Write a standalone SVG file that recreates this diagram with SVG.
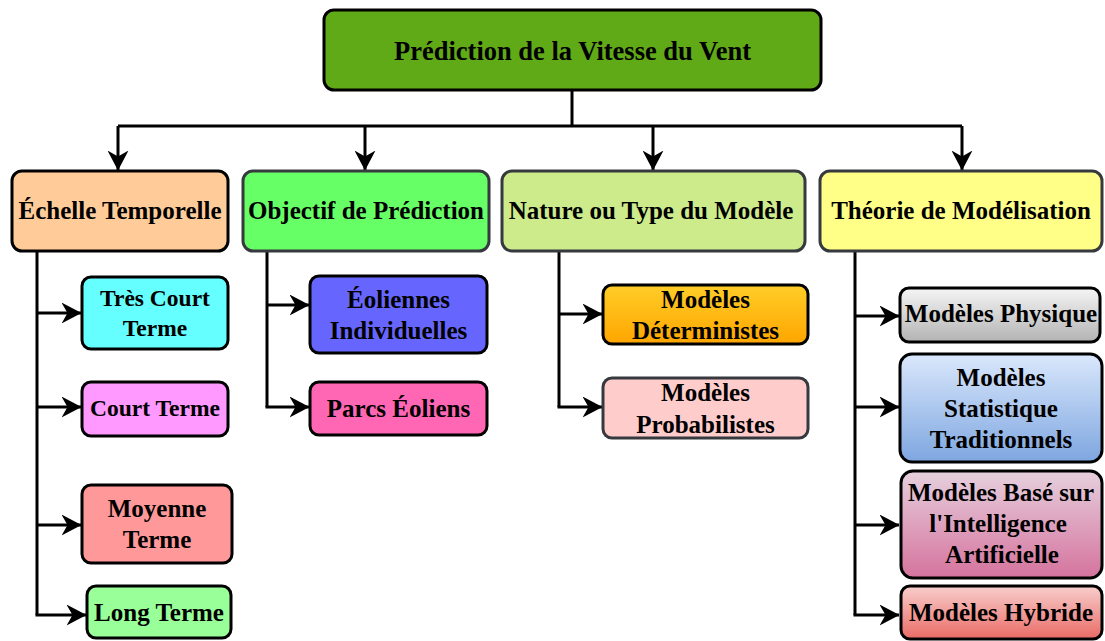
<svg xmlns="http://www.w3.org/2000/svg" width="1105" height="641" viewBox="0 0 1105 641">
<style>
  .box{stroke:#000;stroke-width:3}
  .gbox{stroke:#36393d;stroke-width:3}
  text{font-family:'Liberation Serif','Times New Roman',serif;font-weight:700;fill:#000;text-anchor:middle;font-size:25px}
  .t0{font-size:26.5px}
  .ts{font-size:23.5px}
  .c{fill:none;stroke:#000;stroke-width:3}
</style>
<defs>
  <marker id="ah" viewBox="0 0 20 21" refX="19.5" refY="10.5" markerWidth="20" markerHeight="21" markerUnits="userSpaceOnUse" orient="auto">
    <path d="M0,0 L20,10.5 L0,21 L6,10.5 Z" fill="#000"/>
  </marker>
  <linearGradient id="gOr" x1="0" y1="0" x2="0" y2="1"><stop offset="0" stop-color="#ffcd28"/><stop offset="1" stop-color="#ffa500"/></linearGradient>
  <linearGradient id="gGr" x1="0" y1="0" x2="0" y2="1"><stop offset="0" stop-color="#f5f5f5"/><stop offset="1" stop-color="#b3b3b3"/></linearGradient>
  <linearGradient id="gBl" x1="0" y1="0" x2="0" y2="1"><stop offset="0" stop-color="#dae8fc"/><stop offset="1" stop-color="#7ea6e0"/></linearGradient>
  <linearGradient id="gPk" x1="0" y1="0" x2="0" y2="1"><stop offset="0" stop-color="#e6d0de"/><stop offset="1" stop-color="#d5739d"/></linearGradient>
  <linearGradient id="gRd" x1="0" y1="0" x2="0" y2="1"><stop offset="0" stop-color="#f8cecc"/><stop offset="1" stop-color="#ea6b66"/></linearGradient>
</defs>

<g id="connectors">
  <path class="c" d="M572,90 V126"/>
  <path class="c" d="M118,126 H962"/>
  <path class="c" d="M118,126 V170" marker-end="url(#ah)"/>
  <path class="c" d="M365,126 V170" marker-end="url(#ah)"/>
  <path class="c" d="M653,126 V170" marker-end="url(#ah)"/>
  <path class="c" d="M962,126 V170" marker-end="url(#ah)"/>
  <path class="c" d="M37,251 V615"/>
  <path class="c" d="M37,313 H81" marker-end="url(#ah)"/>
  <path class="c" d="M37,407 H81" marker-end="url(#ah)"/>
  <path class="c" d="M37,525 H81" marker-end="url(#ah)"/>
  <path class="c" d="M35.5,615 H86" marker-end="url(#ah)"/>
  <path class="c" d="M267,251 V407"/>
  <path class="c" d="M267,305 H309" marker-end="url(#ah)"/>
  <path class="c" d="M265.5,407 H309" marker-end="url(#ah)"/>
  <path class="c" d="M559,251 V407"/>
  <path class="c" d="M559,314 H602" marker-end="url(#ah)"/>
  <path class="c" d="M557.5,407 H602" marker-end="url(#ah)"/>
  <path class="c" d="M855,251 V615"/>
  <path class="c" d="M855,316 H899" marker-end="url(#ah)"/>
  <path class="c" d="M855,407 H899" marker-end="url(#ah)"/>
  <path class="c" d="M855,525 H899" marker-end="url(#ah)"/>
  <path class="c" d="M853.5,615 H899" marker-end="url(#ah)"/>
</g>

<g id="root">
  <rect class="box" x="324" y="10" width="497" height="80" rx="10" fill="#60a917"/>
  <text class="t0" x="572.5" y="60">Prédiction de la Vitesse du Vent</text>
</g>

<g id="echelle">
  <rect class="box" x="12" y="171" width="216" height="80" rx="10" fill="#ffcc99"/>
  <text x="120" y="219">Échelle Temporelle</text>
</g>
<g id="objectif">
  <rect class="gbox" x="243" y="171" width="246" height="80" rx="10" fill="#66ff66"/>
  <text x="366" y="219">Objectif de Prédiction</text>
</g>
<g id="nature">
  <rect class="gbox" x="502" y="171" width="303" height="80" rx="10" fill="#cdeb8b"/>
  <text x="651" y="219">Nature ou Type du Modèle</text>
</g>
<g id="theorie">
  <rect class="gbox" x="820" y="171" width="282" height="80" rx="10" fill="#ffff88"/>
  <text x="961" y="219">Théorie de Modélisation</text>
</g>

<g id="tres-court">
  <rect class="box" x="82" y="277" width="146" height="72" rx="9" fill="#66ffff"/>
  <text class="ts" x="155" y="306">Très Court</text>
  <text class="ts" x="155" y="336">Terme</text>
</g>
<g id="court">
  <rect class="box" x="82" y="382" width="146" height="54" rx="9" fill="#ff99ff"/>
  <text class="ts" x="155" y="416">Court Terme</text>
</g>
<g id="moyenne">
  <rect class="box" x="82" y="485" width="150" height="78" rx="9" fill="#ff9999"/>
  <text x="157" y="517">Moyenne</text>
  <text x="157" y="548">Terme</text>
</g>
<g id="long">
  <rect class="box" x="87" y="586" width="144" height="52" rx="9" fill="#99ff99"/>
  <text x="159" y="621">Long Terme</text>
</g>

<g id="eoliennes">
  <rect class="box" x="310" y="276" width="177" height="77" rx="9" fill="#6666ff"/>
  <text x="398.5" y="308">Éoliennes</text>
  <text x="398.5" y="339">Individuelles</text>
</g>
<g id="parcs">
  <rect class="box" x="310" y="382" width="177" height="53" rx="9" fill="#ff66b3"/>
  <text x="398.5" y="417">Parcs Éoliens</text>
</g>

<g id="deterministes">
  <rect class="box" x="603" y="285" width="205" height="59" rx="9" fill="url(#gOr)"/>
  <text x="705.5" y="308">Modèles</text>
  <text x="705.5" y="339">Déterministes</text>
</g>
<g id="probabilistes">
  <rect class="gbox" x="603" y="378" width="205" height="60" rx="9" fill="#ffcccc"/>
  <text x="705.5" y="401">Modèles</text>
  <text x="705.5" y="433">Probabilistes</text>
</g>

<g id="physique">
  <rect class="box" x="900" y="288" width="200" height="54" rx="9" fill="url(#gGr)"/>
  <text x="1001" y="322">Modèles Physique</text>
</g>
<g id="statistique">
  <rect class="box" x="900" y="354" width="202" height="108" rx="12" fill="url(#gBl)"/>
  <text x="1001" y="386">Modèles</text>
  <text x="1001" y="417">Statistique</text>
  <text x="1001" y="448">Traditionnels</text>
</g>
<g id="ia">
  <rect class="box" x="901" y="471" width="201" height="107" rx="12" fill="url(#gPk)"/>
  <text x="1001" y="501">Modèles Basé sur</text>
  <text x="998" y="532">l'Intelligence</text>
  <text x="1002" y="563">Artificielle</text>
</g>
<g id="hybride">
  <rect class="box" x="901" y="586" width="201" height="53" rx="9" fill="url(#gRd)"/>
  <text x="1001" y="621">Modèles Hybride</text>
</g>
</svg>
